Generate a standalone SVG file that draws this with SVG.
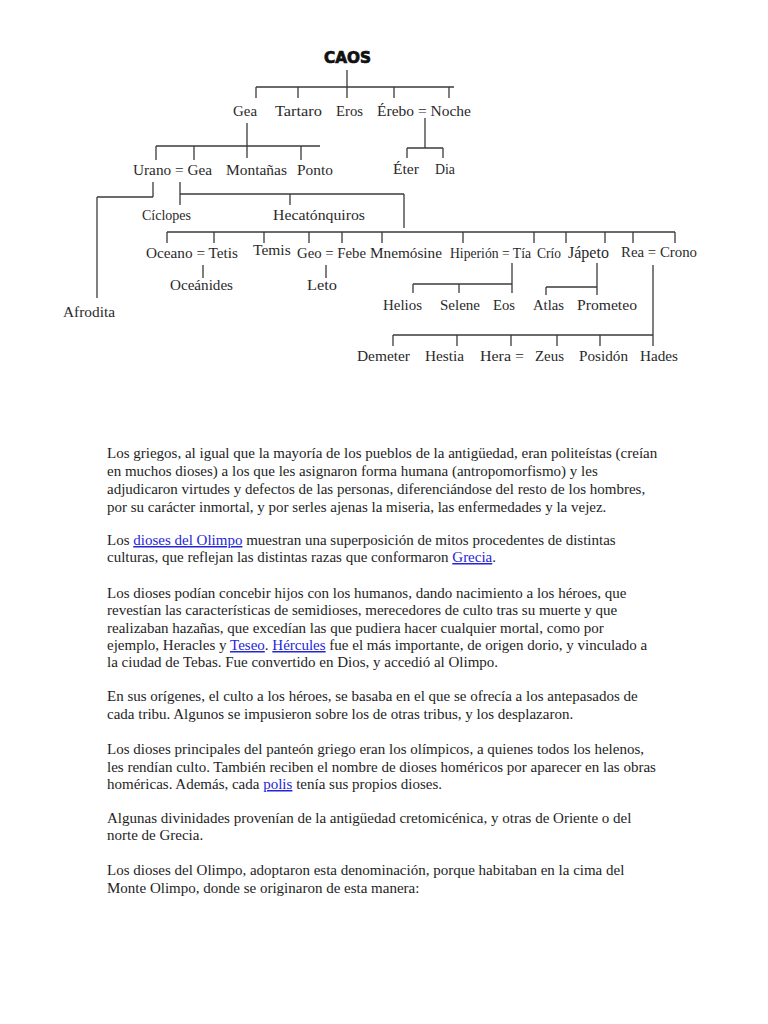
<svg xmlns="http://www.w3.org/2000/svg" width="768" height="1024" viewBox="0 0 768 1024">
<style>
.n{font-family:"Liberation Serif","Times New Roman",serif;font-size:15px;fill:#2a2a2a}
.t{font-family:"DejaVu Sans","Liberation Sans",Arial,sans-serif;font-size:15px;font-weight:bold;fill:#111;stroke:#111;stroke-width:0.7}
.c line{stroke:#3a3a3a;stroke-width:1.3;fill:none}
.b{font-family:"Liberation Serif","Times New Roman",serif;font-size:15px;fill:#1e1e1e}
.l{fill:#2525d8;text-decoration:underline}
</style>
<rect width="768" height="1024" fill="#fff"/>
<g class="c" id="connectors">
<line x1="347" y1="70" x2="347" y2="98"/>
<line x1="256" y1="87" x2="454" y2="87"/>
<line x1="256" y1="87" x2="256" y2="98"/>
<line x1="298" y1="87" x2="298" y2="98"/>
<line x1="394" y1="87" x2="394" y2="98"/>
<line x1="449" y1="87" x2="449" y2="98"/>
<line x1="247" y1="123" x2="247" y2="158"/>
<line x1="156" y1="146" x2="320" y2="146"/>
<line x1="156" y1="146" x2="156" y2="160"/>
<line x1="194" y1="146" x2="194" y2="160"/>
<line x1="301" y1="146" x2="301" y2="160"/>
<line x1="425" y1="118" x2="425" y2="148"/>
<line x1="407" y1="148" x2="443" y2="148"/>
<line x1="407" y1="148" x2="407" y2="158"/>
<line x1="443" y1="148" x2="443" y2="158"/>
<line x1="153" y1="182" x2="153" y2="197"/>
<line x1="97" y1="197" x2="153" y2="197"/>
<line x1="97" y1="197" x2="97" y2="298"/>
<line x1="180" y1="182" x2="180" y2="205"/>
<line x1="180" y1="194" x2="404" y2="194"/>
<line x1="290" y1="194" x2="290" y2="205"/>
<line x1="404" y1="194" x2="404" y2="228"/>
<line x1="167" y1="232" x2="675" y2="232"/>
<line x1="167" y1="232" x2="167" y2="243"/>
<line x1="214" y1="232" x2="214" y2="243"/>
<line x1="264" y1="232" x2="264" y2="243"/>
<line x1="309" y1="232" x2="309" y2="243"/>
<line x1="342" y1="232" x2="342" y2="243"/>
<line x1="382" y1="232" x2="382" y2="243"/>
<line x1="463" y1="232" x2="463" y2="243"/>
<line x1="534" y1="232" x2="534" y2="243"/>
<line x1="566" y1="232" x2="566" y2="243"/>
<line x1="605" y1="232" x2="605" y2="243"/>
<line x1="633" y1="232" x2="633" y2="243"/>
<line x1="675" y1="232" x2="675" y2="243"/>
<line x1="203" y1="265" x2="203" y2="278"/>
<line x1="326" y1="265" x2="326" y2="278"/>
<line x1="512" y1="263" x2="512" y2="293"/>
<line x1="413" y1="284" x2="512" y2="284"/>
<line x1="413" y1="284" x2="413" y2="293"/>
<line x1="459" y1="284" x2="459" y2="293"/>
<line x1="597" y1="263" x2="597" y2="295"/>
<line x1="546" y1="287" x2="597" y2="287"/>
<line x1="546" y1="287" x2="546" y2="295"/>
<line x1="653" y1="265" x2="653" y2="346"/>
<line x1="393" y1="335" x2="653" y2="335"/>
<line x1="393" y1="335" x2="393" y2="346"/>
<line x1="457" y1="335" x2="457" y2="346"/>
<line x1="511" y1="335" x2="511" y2="346"/>
<line x1="557" y1="335" x2="557" y2="346"/>
<line x1="600" y1="335" x2="600" y2="346"/>
</g>
<g id="caos"><text class="t" x="324" y="63" textLength="47" lengthAdjust="spacingAndGlyphs">CAOS</text></g>
<g id="gea"><text class="n" x="233" y="116" textLength="24" lengthAdjust="spacingAndGlyphs">Gea</text></g>
<g id="tartaro"><text class="n" x="275" y="116" textLength="47" lengthAdjust="spacingAndGlyphs">Tartaro</text></g>
<g id="eros"><text class="n" x="336" y="116" textLength="27" lengthAdjust="spacingAndGlyphs">Eros</text></g>
<g id="erebo-noche"><text class="n" x="377" y="116" textLength="94" lengthAdjust="spacingAndGlyphs">Érebo = Noche</text></g>
<g id="urano-gea"><text class="n" x="133" y="175" textLength="79" lengthAdjust="spacingAndGlyphs">Urano = Gea</text></g>
<g id="montanas"><text class="n" x="226" y="175" textLength="61" lengthAdjust="spacingAndGlyphs">Montañas</text></g>
<g id="ponto"><text class="n" x="297" y="175" textLength="36" lengthAdjust="spacingAndGlyphs">Ponto</text></g>
<g id="eter"><text class="n" x="393" y="174" textLength="26" lengthAdjust="spacingAndGlyphs">Éter</text></g>
<g id="dia"><text class="n" x="435" y="174" textLength="20" lengthAdjust="spacingAndGlyphs">Dia</text></g>
<g id="ciclopes"><text class="n" x="142" y="220" textLength="49" lengthAdjust="spacingAndGlyphs">Cíclopes</text></g>
<g id="hecatonquiros"><text class="n" x="273" y="220" textLength="92" lengthAdjust="spacingAndGlyphs">Hecatónquiros</text></g>
<g id="oceano-tetis"><text class="n" x="146" y="258" textLength="92" lengthAdjust="spacingAndGlyphs">Oceano = Tetis</text></g>
<g id="temis"><text class="n" x="253" y="255" style="font-size:15.5px">Temis</text></g>
<g id="geo-febe"><text class="n" x="297" y="258" textLength="69" lengthAdjust="spacingAndGlyphs">Geo = Febe</text></g>
<g id="mnemosine"><text class="n" x="370" y="258" textLength="72" lengthAdjust="spacingAndGlyphs">Mnemósine</text></g>
<g id="hiperion-tia"><text class="n" x="450" y="258" textLength="81" lengthAdjust="spacingAndGlyphs">Hiperión = Tía</text></g>
<g id="crio"><text class="n" x="537" y="258" textLength="24" lengthAdjust="spacingAndGlyphs">Crío</text></g>
<g id="japeto"><text class="n" x="568" y="258" style="font-size:16px">Jápeto</text></g>
<g id="rea-crono"><text class="n" x="621" y="257" textLength="76" lengthAdjust="spacingAndGlyphs">Rea = Crono</text></g>
<g id="oceanides"><text class="n" x="170" y="290" textLength="63" lengthAdjust="spacingAndGlyphs">Oceánides</text></g>
<g id="leto"><text class="n" x="307" y="290" textLength="30" lengthAdjust="spacingAndGlyphs">Leto</text></g>
<g id="afrodita"><text class="n" x="63" y="317" textLength="52" lengthAdjust="spacingAndGlyphs">Afrodita</text></g>
<g id="helios"><text class="n" x="383" y="310" textLength="39" lengthAdjust="spacingAndGlyphs">Helios</text></g>
<g id="selene"><text class="n" x="440" y="310" textLength="40" lengthAdjust="spacingAndGlyphs">Selene</text></g>
<g id="eos"><text class="n" x="493" y="310" textLength="22" lengthAdjust="spacingAndGlyphs">Eos</text></g>
<g id="atlas"><text class="n" x="533" y="310" textLength="31" lengthAdjust="spacingAndGlyphs">Atlas</text></g>
<g id="prometeo"><text class="n" x="577" y="310" textLength="60" lengthAdjust="spacingAndGlyphs">Prometeo</text></g>
<g id="demeter"><text class="n" x="357" y="361" textLength="53" lengthAdjust="spacingAndGlyphs">Demeter</text></g>
<g id="hestia"><text class="n" x="425" y="361" textLength="39" lengthAdjust="spacingAndGlyphs">Hestia</text></g>
<g id="hera"><text class="n" x="480" y="361" textLength="44" lengthAdjust="spacingAndGlyphs">Hera =</text></g>
<g id="zeus"><text class="n" x="535" y="361" textLength="29" lengthAdjust="spacingAndGlyphs">Zeus</text></g>
<g id="posidon"><text class="n" x="579" y="361" textLength="49" lengthAdjust="spacingAndGlyphs">Posidón</text></g>
<g id="hades"><text class="n" x="640" y="361" textLength="38" lengthAdjust="spacingAndGlyphs">Hades</text></g>
<g id="body">
<text class="b" x="107" y="458">Los griegos, al igual que la mayoría de los pueblos de la antigüedad, eran politeístas (creían</text>
<text class="b" x="107" y="476">en muchos dioses) a los que les asignaron forma humana (antropomorfismo) y les</text>
<text class="b" x="107" y="494">adjudicaron virtudes y defectos de las personas, diferenciándose del resto de los hombres,</text>
<text class="b" x="107" y="512">por su carácter inmortal, y por serles ajenas la miseria, las enfermedades y la vejez.</text>
<text class="b" x="107" y="545">Los <tspan class="l">dioses del Olimpo</tspan> muestran una superposición de mitos procedentes de distintas</text>
<text class="b" x="107" y="562">culturas, que reflejan las distintas razas que conformaron <tspan class="l">Grecia</tspan>.</text>
<text class="b" x="107" y="598">Los dioses podían concebir hijos con los humanos, dando nacimiento a los héroes, que</text>
<text class="b" x="107" y="615">revestían las características de semidioses, merecedores de culto tras su muerte y que</text>
<text class="b" x="107" y="633">realizaban hazañas, que excedían las que pudiera hacer cualquier mortal, como por</text>
<text class="b" x="107" y="650">ejemplo, Heracles y <tspan class="l">Teseo</tspan>. <tspan class="l">Hércules</tspan> fue el más importante, de origen dorio, y vinculado a</text>
<text class="b" x="107" y="667">la ciudad de Tebas. Fue convertido en Dios, y accedió al Olimpo.</text>
<text class="b" x="107" y="701">En sus orígenes, el culto a los héroes, se basaba en el que se ofrecía a los antepasados de</text>
<text class="b" x="107" y="719">cada tribu. Algunos se impusieron sobre los de otras tribus, y los desplazaron.</text>
<text class="b" x="107" y="754">Los dioses principales del panteón griego eran los olímpicos, a quienes todos los helenos,</text>
<text class="b" x="107" y="772">les rendían culto. También reciben el nombre de dioses homéricos por aparecer en las obras</text>
<text class="b" x="107" y="789">homéricas. Además, cada <tspan class="l">polis</tspan> tenía sus propios dioses.</text>
<text class="b" x="107" y="823">Algunas divinidades provenían de la antigüedad cretomicénica, y otras de Oriente o del</text>
<text class="b" x="107" y="840">norte de Grecia.</text>
<text class="b" x="107" y="875">Los dioses del Olimpo, adoptaron esta denominación, porque habitaban en la cima del</text>
<text class="b" x="107" y="893">Monte Olimpo, donde se originaron de esta manera:</text>
</g>
</svg>
